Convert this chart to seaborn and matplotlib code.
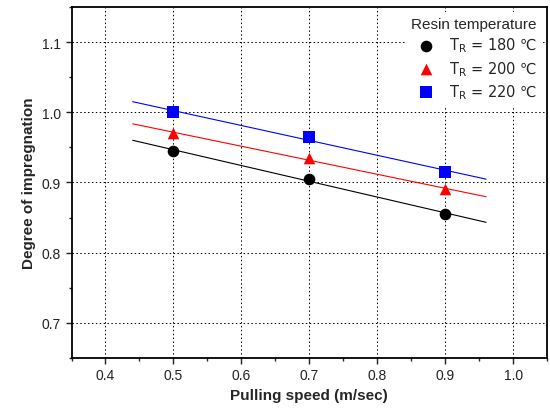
import numpy as np
import pandas as pd
import matplotlib
matplotlib.use("Agg")
import matplotlib.pyplot as plt
import seaborn as sns
from matplotlib.ticker import MultipleLocator

# Data
speed = [0.5, 0.7, 0.9]
temps = ["180", "200", "220"]
deg_180 = [0.945, 0.905, 0.855]
deg_200 = [0.970, 0.935, 0.890]
deg_220 = [1.000, 0.965, 0.915]

colors = ["black", "red", "blue"]
markers = ["o", "^", "s"]

sns.set_theme(style="white")
plt.rcParams["font.family"] = ["Liberation Sans", "DejaVu Sans"]
plt.rcParams["mathtext.fontset"] = "dejavusans"

rows = []
for t, vals in zip(temps, [deg_180, deg_200, deg_220]):
    for s, v in zip(speed, vals):
        rows.append({"speed": s, "degree": v, "temp": t})
df = pd.DataFrame(rows)

fig, ax = plt.subplots(figsize=(5.5, 4.1), dpi=100)

# linear fit lines
xfit = np.linspace(0.44, 0.96, 50)
for t, c in zip(temps, colors):
    sub = df[df["temp"] == t]
    k, b = np.polyfit(sub["speed"], sub["degree"], 1)
    ax.plot(xfit, k * xfit + b, color=c, lw=0.8, zorder=2)

for t, c, m in zip(temps, colors, markers):
    sub = df[df["temp"] == t]
    sns.scatterplot(data=sub, x="speed", y="degree", color=c, marker=m, s=70,
                    edgecolor=c, linewidth=0, ax=ax, zorder=3,
                    label=r"T$_\mathregular{R}$ = " + t + " \u2103")

ax.set_xlim(0.35, 1.05)
ax.set_ylim(0.65, 1.15)
ax.xaxis.set_minor_locator(MultipleLocator(0.05))
ax.yaxis.set_minor_locator(MultipleLocator(0.05))
ax.set_xticks([0.4, 0.5, 0.6, 0.7, 0.8, 0.9, 1.0])
ax.set_yticks([0.7, 0.8, 0.9, 1.0, 1.1])
ax.grid(True, which="major", color="black", linestyle=(0, (1.5, 2.5)), lw=0.7)
ax.tick_params(which="major", direction="out", length=4, width=1, labelsize=10,
               bottom=True, left=True, colors="#222222")
ax.tick_params(which="minor", direction="out", length=2.5, width=1,
               bottom=True, left=True)
for sp in ax.spines.values():
    sp.set_color("black")
    sp.set_linewidth(1.3)

ax.set_xlabel("Pulling speed (m/sec)", fontsize=11, fontweight="bold")
ax.set_ylabel("Degree of impregnation", fontsize=11, fontweight="bold")

leg = ax.legend(title="Resin temperature", loc="upper right", frameon=True,
                prop={"family": "DejaVu Sans", "size": 10.5},
                title_fontsize=11, handletextpad=0.6,
                labelspacing=0.3, borderaxespad=0.3)
leg.get_frame().set_edgecolor("none")
leg.get_frame().set_facecolor("white")
leg.get_frame().set_alpha(1)
leg._legend_box.align = "center"

fig.subplots_adjust(left=0.13, right=0.995, top=0.98, bottom=0.125)
fig.savefig("out.png", dpi=100)
